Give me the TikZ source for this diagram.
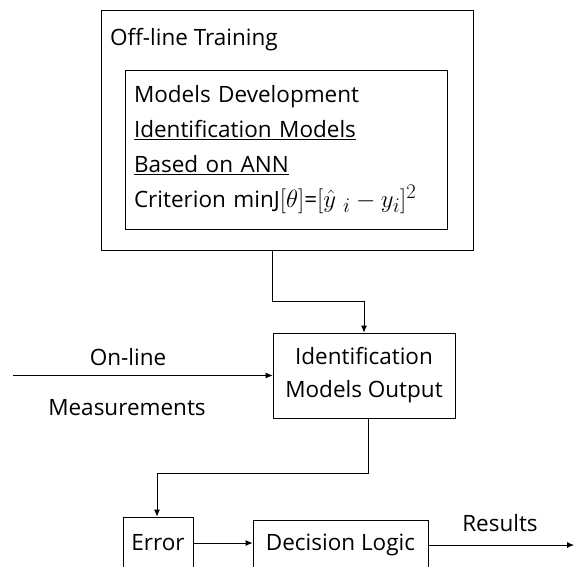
\documentclass[tikz,border=0pt]{standalone}
\usepackage{fontspec}
\setmainfont{Open Sans}
\usetikzlibrary{arrows.meta}

\newcommand{\bigmath}[1]{{\fontsize{28}{35}\selectfont$#1$}}

\tikzset{
  block/.style={draw, line width=0.8pt, inner sep=0pt},
  arr/.style={line width=0.8pt, -{Latex[length=7pt,width=6pt]}},
  txt/.style={font=\fontsize{22.5}{35}\selectfont, inner sep=0pt}
}

\begin{document}
\begin{tikzpicture}[x=1pt, y=-1pt]
\useasboundingbox (0,0) rectangle (576,566);
\clip (0,0) rectangle (576,566);

% off-line part
\node[block, minimum width=372pt, minimum height=240pt] (offline) at (287,130) {};
\node[txt, anchor=west] (offtitle) at (110,40) {Off-line Training};
\node[block, minimum width=322pt, minimum height=159pt, align=left, text width=304pt, txt] (dev) at (286,149.5)
  {Models Development\\
   \underline{Identification Models}\\
   \underline{Based on ANN}\\
   Criterion minJ\bigmath{[\theta]}=\bigmath{[\hat{y}\;{}_i-y_i]^2}};

% on-line part
\node[block, minimum width=182pt, minimum height=85pt, align=center, txt] (imo) at (364,375.5)
  {Identification\\[-2pt] Models Output};
\node[block, minimum width=70pt, minimum height=52pt, txt] (error) at (158,543) {Error};
\node[block, minimum width=175pt, minimum height=50pt, txt] (decision) at (340.5,545) {Decision Logic};

\node[txt] (online) at (128,357) {On-line};
\node[txt] (meas) at (127,408) {Measurements};
\node[txt] (res) at (500,523) {Results};

\coordinate (in) at (13,375.5);
\coordinate (bend1) at (272,301);
\coordinate (bend2a) at (368,473);
\coordinate (bend2b) at (157,473);
\coordinate (out) at (574,545);

\draw[arr] (offline.south -| bend1) -- (bend1) -| (imo.north);
\draw[arr] (in) -- (imo.west);
\draw[arr] (imo.south -| bend2a) -- (bend2a) -- (bend2b) -- (bend2b |- error.north);
\draw[arr] (error.east) -- (error.east -| decision.west);
\draw[arr] (decision.east) -- (out);
\end{tikzpicture}
\end{document}
